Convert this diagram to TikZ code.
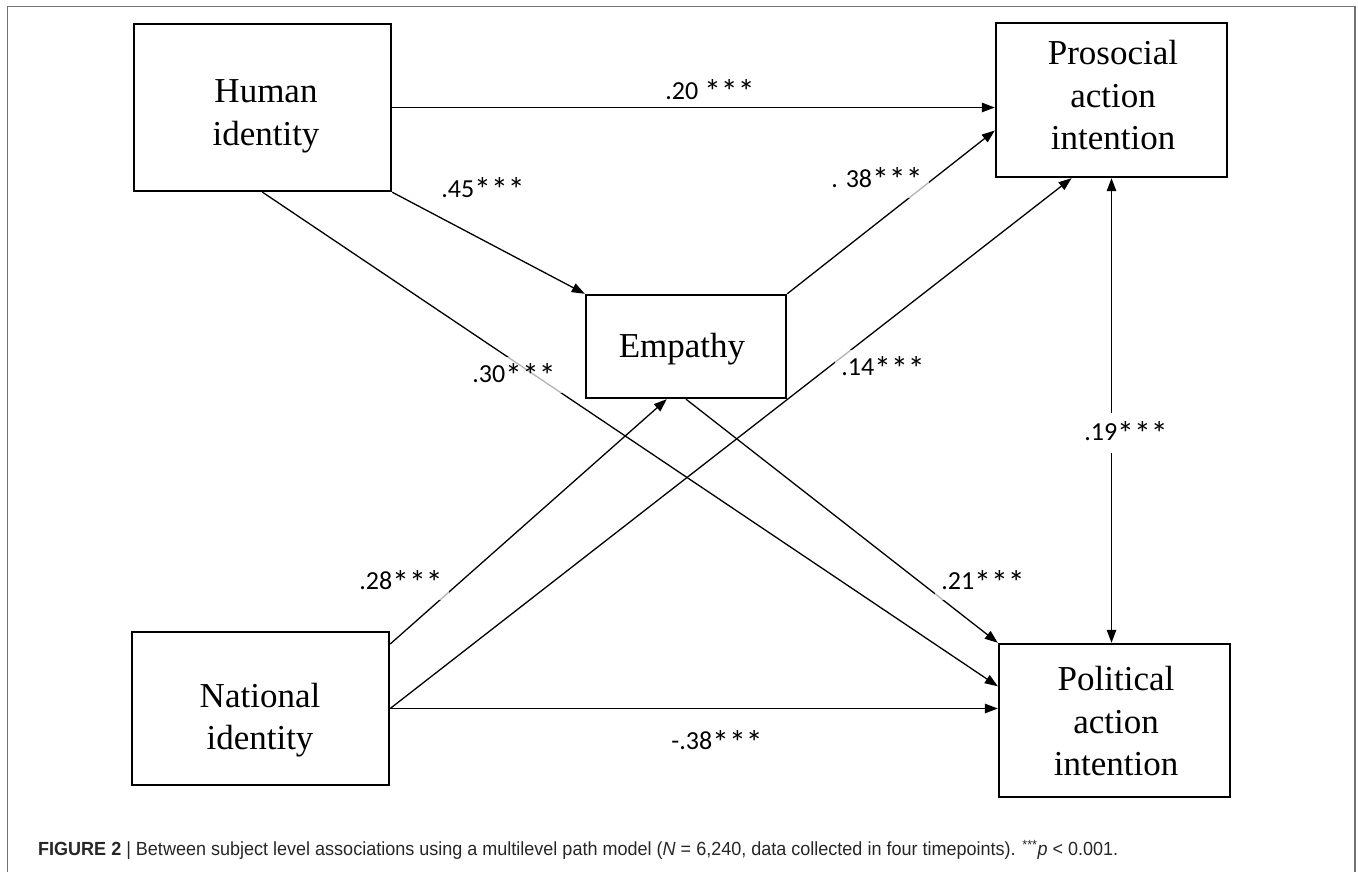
\documentclass[tikz,border=0pt]{standalone}
\usepackage{graphicx}
\usepackage{fontspec}
\setmainfont{Liberation Serif}
\newfontfamily\lblfont{Carlito}
\newfontfamily\capfont{Liberation Sans}
\usetikzlibrary{arrows.meta,calc}
\newcommand{\sgstars}{\raisebox{-0.16em}{\scalebox{1.3}{***}}}
\begin{document}
\begin{tikzpicture}[x=1pt,y=-1pt,
  vbox/.style={draw=black,line width=2.4pt,inner sep=0pt},
  txt/.style={font=\fontsize{35}{42.5}\selectfont,align=center,inner sep=0pt},
  lbl/.style={font=\lblfont\fontsize{26}{30}\selectfont,fill=white,fill opacity=0.7,text opacity=1,inner xsep=6pt,inner ysep=6pt},
  arr/.style={line width=1.3pt,-{Triangle[length=13pt,width=9.5pt]}},
  darr/.style={line width=1.3pt,{Triangle[length=13pt,width=9.5pt]}-{Triangle[length=13pt,width=9.5pt]}},
  frame/.style={draw=black!55,line width=1.5pt}]
\useasboundingbox (0,0) rectangle (1358,872);
\draw[frame] (7.5,872) -- (7.5,6.5) -- (1355,6.5) -- (1355,872);

% boxes
\node[vbox,minimum width=257pt,minimum height=167pt] (human) at (262.5,107.5) {};
\node[vbox,minimum width=231pt,minimum height=154pt] (pro) at (1111.5,100) {};
\node[vbox,minimum width=200pt,minimum height=103pt] (emp) at (686,346.5) {};
\node[vbox,minimum width=257pt,minimum height=153pt] (nat) at (260.5,708.5) {};
\node[vbox,minimum width=231pt,minimum height=153pt] (pol) at (1114.5,720.5) {};

% box texts
\node[txt] (humant) at (266,116.5) {Human\\identity};
\node[txt] (prot) at (1113,95.5) {Prosocial\\action\\intention};
\node[txt] (empt) at (682,349) {Empathy};
\node[txt] (natt) at (260,720) {National\\identity};
\node[txt] (polt) at (1116,721.5) {Political\\action\\intention};

% connectors
\draw[arr] (human.east) -- (human.east -| pro.west);
\draw[arr] (human.south east) -- (emp.north west);
\draw[arr] (emp.north east) -- ($(pro.north west)!0.695!(pro.south west)$);
\draw[arr] (human.south) -- ($(pol.north west)!0.28!(pol.south west)$);
\draw[arr] (emp.south) -- (pol.north west);
\draw[arr] ($(nat.north east)!0.085!(nat.south east)$) -- ($(emp.south west)!0.405!(emp.south east)$);
\draw[arr] (nat.east) -- ($(pro.south west)!0.329!(pro.south east)$);
\draw[arr] (nat.east) -- (nat.east -| pol.west);
\draw[darr] (pro.south) -- (pro.south |- pol.north);

% labels
\node[lbl,fill=none] (l20) at (710,92) {.20 \sgstars};
\node[lbl] (l45) at (483,190) {.45\sgstars};
\node[lbl] (l38) at (877,180) {. 38\sgstars};
\node[lbl] (l30) at (514,375) {.30\sgstars};
\node[lbl] (l14) at (883,368) {.14\sgstars};
\node[lbl,fill opacity=1,inner xsep=2pt,inner ysep=8pt] (l19) at (1126,433) {.19\sgstars};
\node[lbl] (l28) at (401,582) {.28\sgstars};
\node[lbl] (l21) at (983,582) {.21\sgstars};
\node[lbl] (l38n) at (717,742) {-.38\sgstars};

% caption
\node[anchor=west,inner sep=0pt,text=black!85,font=\capfont\fontsize{19}{22}\selectfont] (cap) at (38,850)
  {\resizebox{1080pt}{\height}{\textbf{FIGURE 2} | Between subject level associations using a multilevel path model (\textit{N} = 6,240, data collected in four timepoints). \textsuperscript{***}\textit{p} < 0.001.}};
\end{tikzpicture}
\end{document}
